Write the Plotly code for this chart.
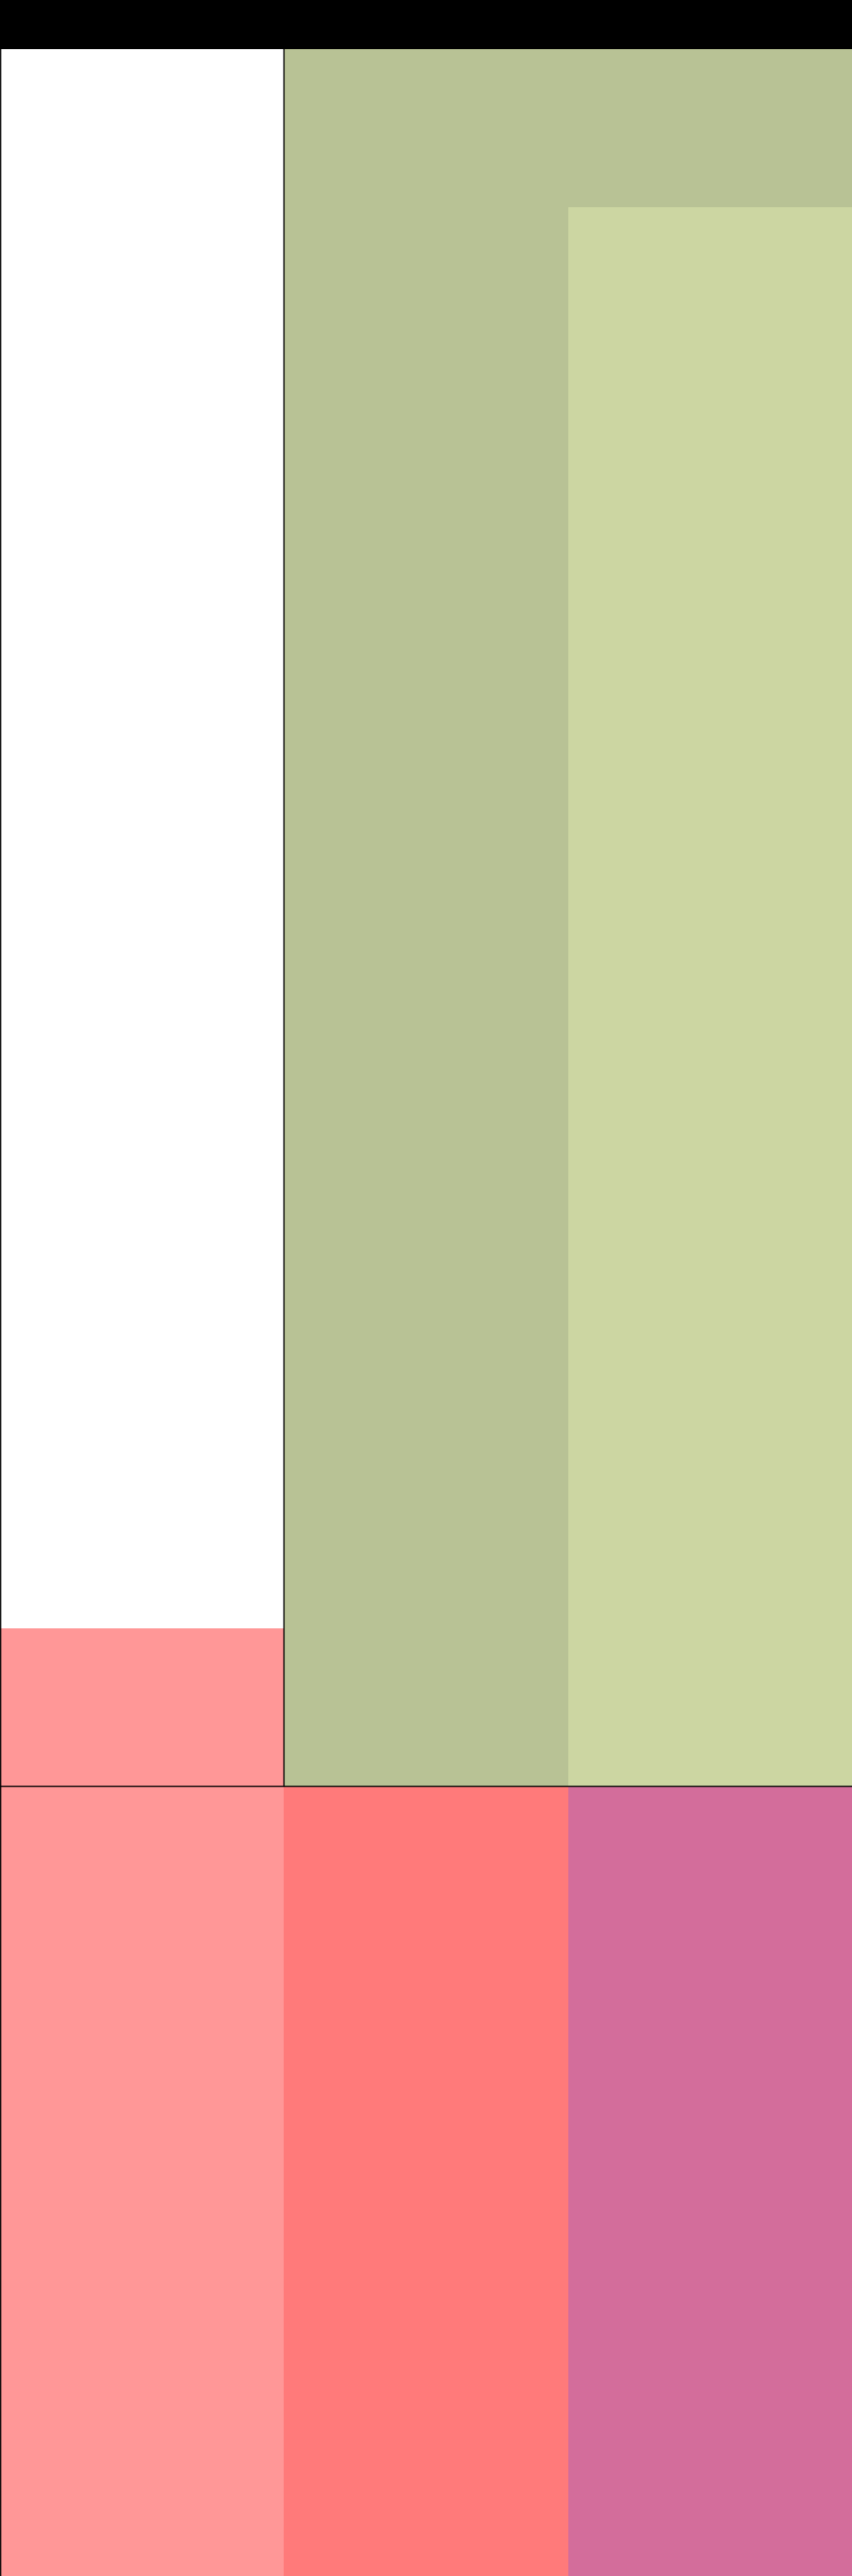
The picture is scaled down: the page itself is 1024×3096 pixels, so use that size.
import plotly.graph_objects as go

categories = ["A", "B", "C"]
lower_values = [-30, -30, -30]
lower_colors = ["#FF9797", "#FF7A7A", "#D36D9B"]
mid_values = [5, 0, 50]
mid_colors = ["#FF9797", "#CCD6A2", "#CCD6A2"]
top_values = [0, 60, 20]
top_color = "#B8C295"

fig = go.Figure()
fig.add_trace(go.Bar(x=categories, y=lower_values, marker=dict(color=lower_colors, line=dict(width=0)), name="lower"))
fig.add_trace(go.Bar(x=categories, y=mid_values, marker=dict(color=mid_colors, line=dict(width=0)), name="mid"))
fig.add_trace(go.Bar(x=categories, y=top_values, marker=dict(color=top_color, line=dict(width=0)), name="top"))

fig.update_layout(
    width=1024,
    height=3096,
    barmode="relative",
    bargap=0,
    showlegend=False,
    paper_bgcolor="black",
    plot_bgcolor="white",
    margin=dict(l=0, r=0, t=59, b=0, pad=0),
    xaxis=dict(showticklabels=False, showgrid=False, zeroline=False, ticks="", range=[-0.5, 2.5]),
    yaxis=dict(showticklabels=False, showgrid=False, zeroline=False, ticks="", range=[-25, 55]),
    shapes=[
        dict(type="line", xref="paper", yref="y", x0=0, x1=1, y0=0, y1=0, line=dict(color="black", width=1.5)),
        dict(type="line", xref="x", yref="y", x0=0.5, x1=0.5, y0=0, y1=55, line=dict(color="black", width=1.5)),
        dict(type="line", xref="paper", yref="paper", x0=0, x1=0, y0=0, y1=1, line=dict(color="black", width=3)),
    ],
)

fig.write_html(
    "out.html",
    config={"displayModeBar": False},
    post_script="document.body.style.margin='0';document.body.style.overflow='hidden';",
)
